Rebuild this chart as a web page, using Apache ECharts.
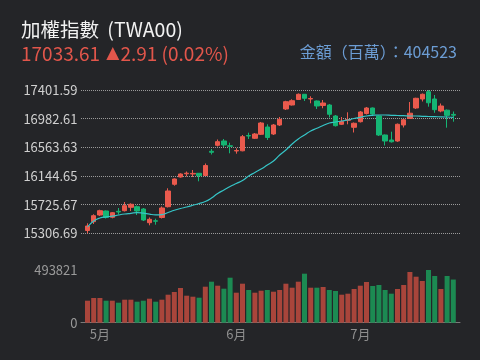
<!DOCTYPE html>
<html><head><meta charset="utf-8">
<script src="https://cdn.jsdelivr.net/npm/echarts@6/dist/echarts.min.js"></script>
<style>html,body{margin:0;padding:0;background:#242528;}#c{width:480px;height:360px;}</style>
</head><body><div id="c"></div>
<script>
// ---- data ----
const dates = ['04-27','04-28',
 '05-02','05-03','05-04','05-05','05-08','05-09','05-10','05-11','05-12','05-15','05-16','05-17','05-18','05-19','05-22','05-23','05-24','05-25','05-26','05-29','05-30','05-31',
 '06-01','06-02','06-05','06-06','06-07','06-08','06-09','06-12','06-13','06-14','06-15','06-16','06-19','06-20','06-21','06-26','06-27','06-28','06-29','06-30',
 '07-03','07-04','07-05','07-06','07-07','07-10','07-11','07-12','07-13','07-14','07-17','07-18','07-19','07-20','07-21','07-24'];
const monthLabels = {'05-02':'5月','06-01':'6月','07-03':'7月'};
const opens = [15347.6,15476.3,15574.2,15632.7,15540.6,15628.3,15637.1,15686.8,15695.6,15662.0,15461.7,15489.5,15537.7,15695.6,16023.1,16129.8,16176.6,16173.7,16183.9,16151.7,
 16505.5,16593.3,16656.1,16586.0,16509.9,16512.9,16736.5,16695.6,16754.1,16860.8,16758.5,16890.0,17124.0,17182.4,17262.9,17338.9,17270.2,17240.9,17175.1,17182.4,
 17021.6,16900.3,16958.7,16856.4,16938.3,17058.2,17138.6,17021.6,16743.8,16670.7,16656.1,16890.0,16985.1,17138.6,17270.2,17376.9,17270.2,17094.7,17106.4,17045.0];
const closes = [15413.4,15564.0,15637.1,15537.7,15607.9,15618.1,15710.2,15730.7,15632.7,15501.1,15511.4,15483.6,15676.6,15925.1,16100.6,16173.7,16185.4,16182.4,16148.8,16297.9,
 16490.9,16645.9,16597.7,16578.6,16517.2,16719.0,16729.2,16758.5,16919.3,16707.3,16890.0,16973.4,17230.7,17245.3,17338.9,17280.4,17277.5,17167.8,17211.7,17046.5,
 16879.8,16941.2,16970.5,16914.9,17080.1,17138.6,17050.9,16743.8,16656.1,16644.4,16900.3,16966.1,17062.6,17280.4,17338.9,17214.6,17113.7,17167.8,17030.70,17033.61];
const lows = [15306.69,15442.7,15559.6,15523.1,15526.0,15581.6,15625.4,15632.7,15574.2,15486.5,15423.7,15432.4,15523.1,15683.9,16002.6,16120.0,16137.1,16129.8,16066.9,16144.4,
 16458.8,16575.7,16568.4,16476.3,16470.5,16505.5,16685.4,16685.4,16743.8,16670.7,16743.8,16875.4,17109.3,17175.0,17255.5,17240.9,17207.3,17124.0,17134.2,16999.7,
 16868.0,16890.0,16900.3,16780.4,16926.6,17043.6,17029.0,16729.2,16590.3,16633.5,16644.4,16853.5,16977.8,17124.0,17233.7,17157.6,17068.4,17075.7,16850.6,16938.3];
const highs = [15452.9,15584.5,15651.7,15640.0,15618.1,15676.6,15764.3,15745.3,15713.1,15676.6,15537.7,15520.2,15698.5,15964.6,16107.9,16183.9,16210.2,16232.1,16188.3,16327.2,
 16539.2,16678.1,16685.4,16631.3,16549.4,16743.8,16777.5,16773.1,16933.9,16900.3,16904.7,17007.0,17243.9,17265.7,17350.6,17343.3,17309.6,17248.2,17255.5,17197.0,
 17036.3,17007.0,17075.7,16926.6,17094.7,17153.2,17145.9,17029.0,16751.2,16792.1,16912.0,16977.8,17226.3,17287.7,17350.6,17401.59,17328.7,17204.4,17116.6,17087.4];
const maLine = [15398.8,15486.5,15530.4,15547.9,15556.7,15574.2,15588.9,15599.1,15609.3,15600.6,15585.9,15577.2,15580.1,15610.8,15643.0,15669.3,15691.2,15716.1,15742.4,15771.6,
 15822.8,15888.6,15939.7,15990.9,16034.8,16078.6,16144.4,16195.6,16246.8,16305.2,16363.7,16451.4,16524.5,16612.3,16685.4,16743.8,16802.3,16841.8,16882.7,16919.3,
 16933.9,16948.5,16963.1,16985.1,17002.6,17021.6,17031.9,17036.2,17036.2,17031.9,17028.9,17026.0,17021.6,17021.6,17017.2,17014.3,17011.4,17009.9,17007.0,17002.6];
const volumes = [206149,231449,231449,206149,206149,187408,215519,215519,196778,206149,224890,196778,215519,262371,287671,325153,253001,243630,234260,337334,
 384186,346705,318594,421668,281112,365446,306412,281112,299853,306412,290482,306412,365446,327964,384186,459150,327964,327964,334523,306412,
 297042,262371,271742,315782,346705,381375,343894,353264,306412,271742,315782,353264,475079,431038,390746,493821,437598,315782,437598,404523];
const priceTicks = [15306.69,15725.67,16144.65,16563.63,16982.61,17401.59];
const volumeTicks = [0,493821];
const titleName = '加權指數', titleCode = '(TWA00)';
const lastClose = '17033.61', change = '2.91', changePct = '0.02%';
const amountLabel = '金額（百萬）：', amount = '404523';

// ---- chart ----
const UP = '#ea5a4d', DOWN = '#15b574', VUP = '#a9453b', VDOWN = '#1c8a52';
const candleData = opens.map((o,i)=>[o, closes[i], lows[i], highs[i]]);
const volData = volumes.map((v,i)=>({value:v, itemStyle:{color: closes[i] >= opens[i] ? VUP : VDOWN}}));
const FONT = '"Noto Sans CJK TC", "Noto Sans", sans-serif';
const chart = echarts.init(document.getElementById('c'), null, {renderer:'canvas'});
const pLeft = 84.4, pWidth = 372;
chart.setOption({
  backgroundColor:'#242528',
  animation:false,
  title:[
    {text:'{a|'+titleName+' }{b|'+titleCode+'}', left:16, top:15,
      textStyle:{color:'#f2f2f2', fontSize:19.5, fontWeight:'normal', fontFamily:FONT,
        rich:{a:{color:'#f2f2f2', fontSize:19.5, fontFamily:FONT}, b:{color:'#f2f2f2', fontSize:19.5, fontFamily:FONT, padding:[0,0,0,4]}}}},
    {text:'{n|'+lastClose+' }{t|▲}{n|'+change+' ('+changePct+')}', left:16, top:39,
      textStyle:{color:'#e2564b', fontSize:19, fontWeight:'normal', fontFamily:FONT,
        rich:{n:{color:'#e2564b', fontSize:19, fontFamily:FONT}, t:{color:'#e2564b', fontSize:17, fontFamily:'"DejaVu Sans", sans-serif', padding:[0,1,0,2]}}}},
    {text:amountLabel+amount, right:18, top:38.5, textStyle:{color:'#6c9dd4', fontSize:16, fontWeight:'normal', fontFamily:FONT}}
  ],
  grid:[
    {left:81, right:20, top:90, height:143.3},
    {left:pLeft, width:pWidth, top:90, height:143.3},
    {left:81, right:20, top:270, height:52.7},
    {left:pLeft, width:pWidth, top:270, height:52.7}
  ],
  xAxis:[
    {gridIndex:0, type:'value', min:0, max:1, show:false},
    {gridIndex:1, type:'category', data:dates, show:false, boundaryGap:true},
    {gridIndex:2, type:'value', min:0, max:1, axisLine:{show:true, onZero:false, lineStyle:{color:'#7a7a7a', width:1}}, axisTick:{show:false}, axisLabel:{show:false}, splitLine:{show:false}},
    {gridIndex:3, type:'category', data:dates, boundaryGap:true, axisLine:{show:false}, axisTick:{show:false},
      axisLabel:{show:true, interval:(idx, val)=> !!monthLabels[val], formatter:(val)=>monthLabels[val]||'', color:'#8e8e8e', fontSize:13, margin:5, fontFamily:FONT}}
  ],
  yAxis:[
    {gridIndex:0, type:'value', min:priceTicks[0], max:priceTicks[priceTicks.length-1], interval:+(priceTicks[1]-priceTicks[0]).toFixed(2),
      axisLine:{show:false}, axisTick:{show:false},
      axisLabel:{color:'#d0d0d0', fontSize:13, margin:3.5, fontFamily:FONT, formatter:(v)=>v.toFixed(2)},
      splitLine:{show:true, lineStyle:{color:'#9a9a9a', type:'dotted', width:1}}},
    {gridIndex:1, type:'value', min:priceTicks[0], max:priceTicks[priceTicks.length-1], show:false, splitLine:{show:false}},
    {gridIndex:2, type:'value', min:volumeTicks[0], max:volumeTicks[1], interval:volumeTicks[1],
      axisLine:{show:false}, axisTick:{show:false}, splitLine:{show:false},
      axisLabel:{color:'#9a9a9a', fontSize:13, margin:3.5, fontFamily:FONT, formatter:(v)=>String(v)}},
    {gridIndex:3, type:'value', min:volumeTicks[0], max:volumeTicks[1], show:false, splitLine:{show:false}}
  ],
  series:[
    {type:'candlestick', xAxisIndex:1, yAxisIndex:1, data:candleData, barWidth:5,
      itemStyle:{color:UP, color0:DOWN, borderColor:UP, borderColor0:DOWN, borderWidth:1}},
    {type:'line', xAxisIndex:1, yAxisIndex:1, data:maLine, smooth:true, symbol:'none', z:5,
      lineStyle:{color:'#36c6c8', width:1.2}},
    {type:'bar', xAxisIndex:3, yAxisIndex:3, data:volData, barWidth:5}
  ]
});
</script></body></html>
